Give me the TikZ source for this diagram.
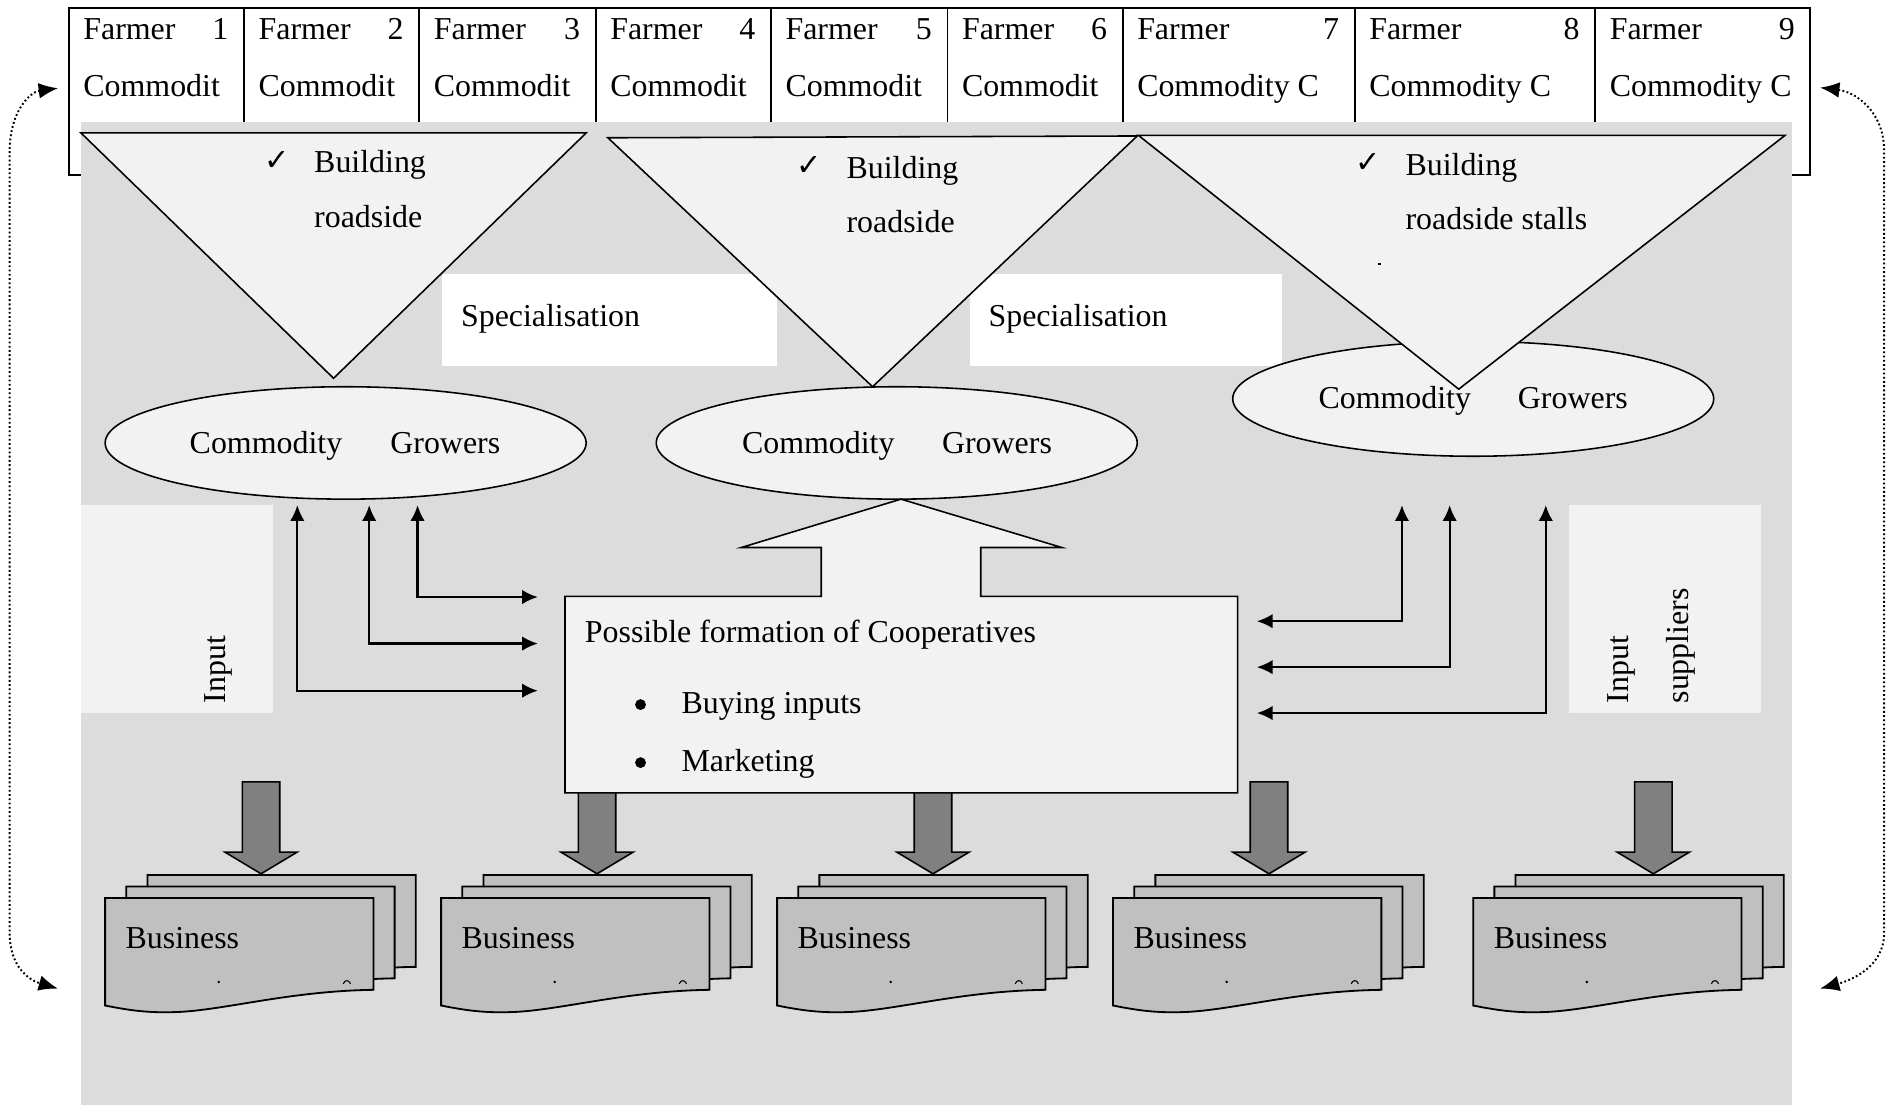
\documentclass[tikz,border=0pt]{standalone}
\usepackage{fontspec}
\setmainfont{Liberation Serif}
\newfontfamily\symfont{DejaVu Sans}
\usetikzlibrary{arrows.meta,shapes.geometric}

\definecolor{panelgray}{RGB}{220,220,220}
\definecolor{lightfill}{RGB}{242,242,242}
\definecolor{docfill}{RGB}{192,192,192}
\definecolor{blockfill}{RGB}{128,128,128}

\tikzset{
  every node/.style={inner sep=0pt, outer sep=0pt},
  txt/.style={font=\fontsize{26.4}{30}\selectfont, anchor=base west},
  tick/.style={font=\symfont\fontsize{25}{28}\selectfont, anchor=base west},
  tri/.style={fill=lightfill, draw, line width=1.3pt, line join=miter},
  grower/.style={ellipse, draw, fill=lightfill, line width=1.3pt, minimum width=398pt, minimum height=93pt},
  specbox/.style={fill=white, anchor=north west, minimum width=277pt, minimum height=76pt},
  inbox/.style={fill=lightfill, anchor=north west, minimum width=159pt, minimum height=172pt},
  link/.style={line width=1.8pt, {Latex[length=13pt,width=12pt]}-{Latex[length=13pt,width=12pt]}},
  loopback/.style={line width=1.6pt, dash pattern=on 1.5pt off 2pt,
    {Latex[length=16pt,width=13pt]}-{Latex[length=16pt,width=13pt]}},
  fatdown/.pic={
    \draw[fill=blockfill, line width=1.3pt, line join=miter]
      (-15.5,0) -- (-15.5,58) -- (-30,58) -- (0,76) -- (30,58) -- (15.5,58) -- (15.5,0) -- cycle;
  },
  docstack/.pic={
    \foreach \dx/\dy in {35/-19, 17.5/-9.5, 0/0}{
      \draw[fill=docfill, line width=1.5pt, shift={(\dx,\dy)}]
        (0,0) -- (222,0) -- (222,76)
        .. controls (150,77) and (95,94) .. (55,94.5)
        .. controls (35,95) and (20,93) .. (0,89) -- cycle;
    }
    \node[txt] (-label) at (17,42) {Business};
    \fill (94,69.5) circle (1.2);
    \draw[line width=0.9pt] (197,71) .. controls (198.5,67.5) and (201.5,67.5) .. (203,71);
  }
}

\begin{document}
\begin{tikzpicture}[x=1pt,y=-1pt]
\fill[white] (0,0) rectangle (1568,914);
\useasboundingbox (0,0) rectangle (1568,914);

% farmer table along the top
\draw[line width=1.6pt] (57,7) rectangle (1498,145);
\foreach \x in {202,347,493,638,784,929,1121,1320}
  \draw[line width=1.6pt] (\x,7) -- (\x,101);
\foreach \i/\l/\r/\c in {1/57/202/Commodit, 2/202/347/Commodit, 3/347/493/Commodit,
    4/493/638/Commodit, 5/638/784/Commodit, 6/784/929/Commodit,
    7/929/1121/Commodity C, 8/1121/1320/Commodity C, 9/1320/1498/Commodity C}{
  \node[txt] (farmer\i) at ({\l+12},32.5) {Farmer};
  \node[txt, anchor=base east] (num\i) at ({\r-13},32.5) {\i};
  \node[txt] (crop\i) at ({\l+12},80) {\c};
}

% grey panel
\fill[panelgray] (67,101) rectangle (1483,914);

% specialisation labels
\node[specbox] (spec1) at (366,227) {};
\node[specbox, minimum width=258pt] (spec2) at (803,227) {};
\node[txt] (spec1t) at (381.5,270) {Specialisation};
\node[txt] (spec2t) at (818,270) {Specialisation};

% input supplier panels
\node[inbox] (inL) at (67,418) {};
\node[inbox] (inR) at (1298,418) {};
\node[txt, rotate=90, anchor=west] (inLt) at (181,582) {Input};
\node[txt, rotate=90, anchor=west] (inRt1) at (1342,582) {Input};
\node[txt, rotate=90, anchor=west] (inRt2) at (1391,582) {suppliers};

% commodity grower groups
\node[grower] (grow1) at (286,366.5) {};
\node[grower] (grow2) at (742,366.5) {};
\node[grower, minimum height=95pt] (grow3) at (1219,330) {};

% roadside-stall triangles
\draw[tri] (67,110) -- (485,110) -- (276,313) -- cycle;
\draw[tri] (503,114) -- (941,112.5) -- (722,320) -- cycle;
\draw[tri] (942,112) -- (1477,112) -- (1207,322) -- cycle;

\node[tick] (ok1) at (219,141) {✓};
\node[txt] (bld1) at (260,143) {Building};
\node[txt] (road1) at (260,188) {roadside};
\node[tick] (ok2) at (659,145.5) {✓};
\node[txt] (bld2) at (700.5,147.5) {Building};
\node[txt] (road2) at (700.5,192) {roadside};
\node[tick] (ok3) at (1121.5,143) {✓};
\node[txt] (bld3) at (1163,145) {Building};
\node[txt] (road3) at (1163,190) {roadside stalls};
\fill (1140,217.5) rectangle (1143,219);

\node[txt] (g1a) at (157,375) {Commodity};
\node[txt] (g1b) at (323,375) {Growers};
\node[txt] (g2a) at (614,375) {Commodity};
\node[txt] (g2b) at (779.5,375) {Growers};
\node[txt] (g3a) at (1091,338) {Commodity};
\node[txt] (g3b) at (1256,338) {Growers};

% block arrows down to the businesses
\foreach \x [count=\k] in {216,494,772,1050,1368}
  \pic (down\k) at (\x,647) {fatdown};

% cooperative box with its arrow up to the middle growers
\draw[fill=lightfill, line width=1.3pt, line join=miter]
  (467.5,493.5) -- (679.5,493.5) -- (679.5,453) -- (613.5,453) -- (745.5,413)
  -- (878.5,453) -- (811.5,453) -- (811.5,493.5) -- (1024,493.5)
  -- (1024,656) -- (467.5,656) -- cycle;
\node[txt] (coop) at (484,531.5) {Possible formation of Cooperatives};
\node[circle, fill, minimum size=9pt] (dot1) at (530,583) {};
\node[circle, fill, minimum size=9pt] (dot2) at (530,631) {};
\node[txt] (buy) at (564,590) {Buying inputs};
\node[txt] (mkt) at (564,638.5) {Marketing};

% links between growers and the cooperative
\coordinate (upA1) at (345.5,418);  \coordinate (toA1) at (445,494);
\coordinate (upA2) at (305.5,418);  \coordinate (toA2) at (445,532.5);
\coordinate (upA3) at (246,418);    \coordinate (toA3) at (445,571.5);
\coordinate (upB1) at (1160,418);   \coordinate (toB1) at (1040,514);
\coordinate (upB2) at (1199.5,418); \coordinate (toB2) at (1040,552);
\coordinate (upB3) at (1279,418);   \coordinate (toB3) at (1040,590);
\foreach \p in {A1,A2,A3,B1,B2,B3}
  \draw[link] (up\p) |- (to\p);

% business stacks
\foreach \x [count=\k] in {87,365,643,921,1219}
  \pic (biz\k) at (\x,743) {docstack};

% feedback loops on both sides
\coordinate (ltTop) at (48,73);   \coordinate (ltBot) at (48,818);
\coordinate (rtTop) at (1506,72.5); \coordinate (rtBot) at (1506,818);
\draw[loopback] (ltTop) .. controls (25,76) and (8,92) .. (8,125) -- (8,772)
  .. controls (8,800) and (24,811) .. (ltBot);
\draw[loopback] (rtTop) .. controls (1535,76) and (1559,92) .. (1559,125) -- (1559,772)
  .. controls (1559,800) and (1532,811) .. (rtBot);
\end{tikzpicture}
\end{document}
